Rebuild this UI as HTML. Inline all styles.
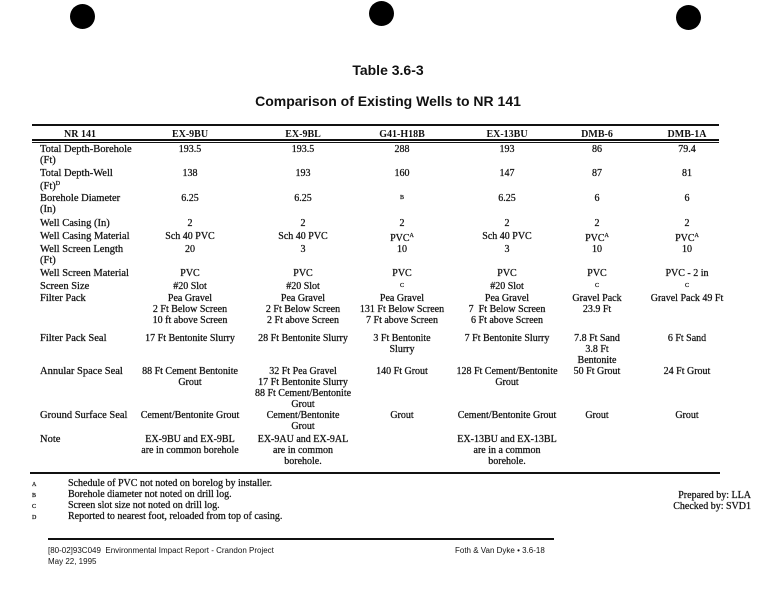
<!DOCTYPE html>
<html><head><meta charset="utf-8"><style>
body{margin:0;width:775px;height:600px;background:#fff;position:relative;overflow:hidden;font-family:"Liberation Serif",serif;color:#111}
.t{position:absolute;font-size:10px;line-height:11px;white-space:nowrap;-webkit-text-stroke:0.25px #111}
.c{transform:translateX(-50%);text-align:center}
.h{font-weight:bold;-webkit-text-stroke:0}
.lb{font-size:10.5px}
.ln{position:absolute;background:#111}
.dot{position:absolute;border-radius:50%;background:#000}
sup{font-size:6px;vertical-align:4px}
</style></head><body>
<div class="dot" style="left:70px;top:4px;width:25px;height:25px"></div>
<div class="dot" style="left:369px;top:1px;width:25px;height:25px"></div>
<div class="dot" style="left:676px;top:5px;width:25px;height:25px"></div>

<div class="t c h" style="left:388px;top:62px;font-family:'Liberation Sans',sans-serif;font-size:14px;line-height:16px">Table 3.6-3</div>
<div class="t c h" style="left:388px;top:93px;font-family:'Liberation Sans',sans-serif;font-size:14px;line-height:16px">Comparison of Existing Wells to NR 141</div>

<div class="ln" style="left:32px;top:124px;width:687px;height:2px"></div>
<div class="ln" style="left:32px;top:139px;width:687px;height:2px"></div>
<div class="ln" style="left:32px;top:142px;width:687px;height:1px"></div>
<div class="ln" style="left:30px;top:472px;width:690px;height:2px"></div>
<div class="ln" style="left:48px;top:538px;width:506px;height:2px"></div>

<div id="tbl"></div>

<div class="t" style="left:32px;top:480px;font-size:6px">A</div>
<div class="t" style="left:32px;top:491px;font-size:6px">B</div>
<div class="t" style="left:32px;top:502px;font-size:6px">C</div>
<div class="t" style="left:32px;top:513px;font-size:6px">D</div>
<div class="t" style="left:68px;top:478px">Schedule of PVC not noted on borelog by installer.</div>
<div class="t" style="left:68px;top:489px">Borehole diameter not noted on drill log.</div>
<div class="t" style="left:68px;top:500px">Screen slot size not noted on drill log.</div>
<div class="t" style="left:68px;top:511px">Reported to nearest foot, reloaded from top of casing.</div>
<div class="t" style="right:24px;top:490px;text-align:right">Prepared by: LLA<br>Checked by: SVD1</div>

<div class="t" style="left:48px;top:545px;font-family:'Liberation Sans',sans-serif;font-size:8px;line-height:11px;-webkit-text-stroke:0">[80-02]93C049&nbsp; Environmental Impact Report - Crandon Project<br>May 22, 1995</div>
<div class="t" style="left:455px;top:545px;font-family:'Liberation Sans',sans-serif;font-size:8px;-webkit-text-stroke:0">Foth &amp; Van Dyke • 3.6-18</div>

<script>
const cols=[190,303,402,507,597,687];
const heads=["EX-9BU","EX-9BL","G41-H18B","EX-13BU","DMB-6","DMB-1A"];
const rowTops=[144,168,193,218,231,244,268,281,293,333,366,410,434];
const labels=["Total Depth-Borehole<br>(Ft)","Total Depth-Well<br>(Ft)<sup>D</sup>","Borehole Diameter<br>(In)","Well Casing (In)","Well Casing Material","Well Screen Length<br>(Ft)","Well Screen Material","Screen Size","Filter Pack","Filter Pack Seal","Annular Space Seal","Ground Surface Seal","Note"];
const cells=[
["193.5","193.5","288","193","86","79.4"],
["138","193","160","147","87","81"],
["6.25","6.25","<sup>B</sup>","6.25","6","6"],
["2","2","2","2","2","2"],
["Sch 40 PVC","Sch 40 PVC","PVC<sup>A</sup>","Sch 40 PVC","PVC<sup>A</sup>","PVC<sup>A</sup>"],
["20","3","10","3","10","10"],
["PVC","PVC","PVC<br><span style='font-size:6px'>C</span>","PVC","PVC<br><span style='font-size:6px'>C</span>","PVC - 2 in<br><span style='font-size:6px'>C</span>"],
["#20 Slot","#20 Slot","","#20 Slot","",""],
["Pea Gravel<br>2 Ft Below Screen<br>10 ft above Screen","Pea Gravel<br>2 Ft Below Screen<br>2 Ft above Screen","Pea Gravel<br>131 Ft Below Screen<br>7 Ft above Screen","Pea Gravel<br>7&nbsp; Ft Below Screen<br>6 Ft above Screen","Gravel Pack<br>23.9 Ft","Gravel Pack 49 Ft"],
["17 Ft Bentonite Slurry","28 Ft Bentonite Slurry","3 Ft Bentonite<br>Slurry","7 Ft Bentonite Slurry","7.8 Ft Sand<br>3.8 Ft<br>Bentonite","6 Ft Sand"],
["88 Ft Cement Bentonite<br>Grout","32 Ft Pea Gravel<br>17 Ft Bentonite Slurry<br>88 Ft Cement/Bentonite<br>Grout","140 Ft Grout","128 Ft Cement/Bentonite<br>Grout","50 Ft Grout","24 Ft Grout"],
["Cement/Bentonite Grout","Cement/Bentonite<br>Grout","Grout","Cement/Bentonite Grout","Grout","Grout"],
["EX-9BU and EX-9BL<br>are in common borehole","EX-9AU and EX-9AL<br>are in common<br>borehole.","","EX-13BU and EX-13BL<br>are in a common<br>borehole.","",""]
];
const tbl=document.getElementById('tbl');
function add(html,left,top,cls,name){
  const d=document.createElement('div');
  d.className=cls;d.innerHTML=html;d.style.left=left+'px';d.style.top=top+'px';
  
  
  tbl.appendChild(d);
}
add("NR 141",80,129,"t c h","header-nr141");
heads.forEach((h,i)=>add(h,cols[i],129,"t c h","header-"+h.toLowerCase()));
labels.forEach((l,r)=>{
  add(l,40,rowTops[r],"t lb","row-label");
  cells[r].forEach((v,i)=>{ if(v) add(v,cols[i],rowTops[r],"t c","cell"); });
});
</script>
</body></html>
